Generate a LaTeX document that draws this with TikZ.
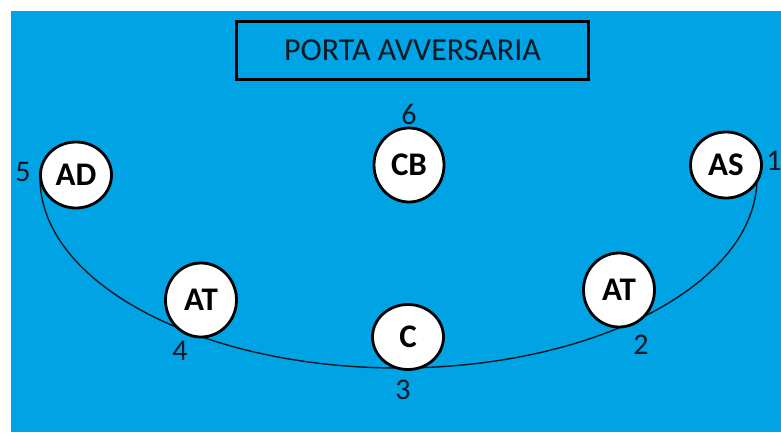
\documentclass[tikz,border=0pt]{standalone}
\usepackage{fontspec}
\setmainfont{Carlito}
\usetikzlibrary{shapes.geometric}
\definecolor{pool}{RGB}{0,163,228}
\definecolor{ink}{RGB}{10,25,35}
\begin{document}
\begin{tikzpicture}[x=1pt,y=-1pt,
  player/.style={ellipse,draw=black,line width=2.8pt,fill=white,inner sep=0pt,
    minimum width=70pt,minimum height=70pt,
    font=\fontsize{33}{33}\selectfont\bfseries,text=black},
  spot/.style={inner sep=0pt,font=\fontsize{30}{30}\selectfont,text=ink},
  titlebox/.style={draw=black,line width=3pt,minimum width=352pt,minimum height=58pt,
    inner sep=0pt,font=\fontsize{32}{32}\selectfont,text=ink}]
\useasboundingbox (0,0) rectangle (781,432);
% water
\fill[pool] (11,11) rectangle (781,432);
% goal label
\node[titlebox] (goal) at (412.5,50) {PORTA AVVERSARIA};
% attacking arc
\coordinate (arcL) at (40,178);
\coordinate (arcR) at (757,178);
\draw[ink,line width=1.4pt] (arcL) arc[start angle=180,end angle=0,x radius=358.5,y radius=190];
% players
\node[player,minimum width=71pt,minimum height=66pt] (AD) at (76,175) {AD};
\node[player,minimum width=71pt,minimum height=66pt] (AS) at (726,165) {AS};
\node[player,minimum width=70pt,minimum height=74pt] (CB) at (409,165) {CB};
\node[player,minimum width=71pt,minimum height=74pt] (ATL) at (201,300) {AT};
\node[player,minimum width=71pt,minimum height=74pt] (ATR) at (619,290) {AT};
\node[player,minimum width=71pt,minimum height=65pt] (C) at (408,337) {C};
% position numbers
\node[spot] (n1) at (774,161) {1};
\node[spot] (n2) at (641,345) {2};
\node[spot] (n3) at (403,390) {3};
\node[spot] (n4) at (180,351) {4};
\node[spot] (n5) at (23,172) {5};
\node[spot] (n6) at (409,114) {6};
\end{tikzpicture}
\end{document}
